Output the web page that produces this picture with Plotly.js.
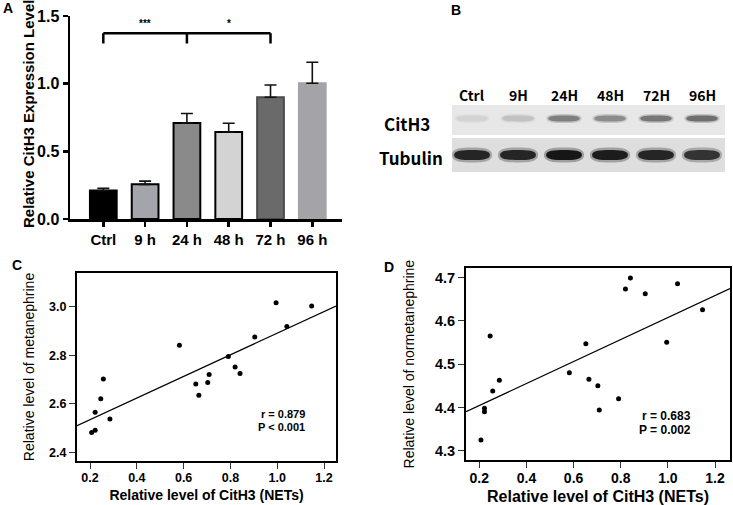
<!DOCTYPE html>
<html><head><meta charset="utf-8">
<script src="https://cdn.plot.ly/plotly-3.0.1.min.js"></script>
<style>html,body{margin:0;padding:0;background:#fff}</style>
</head><body><div id="chart" style="width:733px;height:505px"></div>
<script>
// ---------- Panel A data ----------
const groups = ['Ctrl', '9 h', '24 h', '48 h', '72 h', '96 h'];
const expression = [0.21, 0.256, 0.71, 0.643, 0.90, 1.003];
const expressionErr = [0.017, 0.024, 0.07, 0.064, 0.09, 0.155];
const yTicksA = [0, 0.5, 1.0, 1.5];
const yTickTextA = ['0.0', '0.5', '1.0', '1.5'];
const sigFrom = [0, 2];
const sigTo = [2, 4];
const sigLabels = ['***', '*'];
const sigLevel = 1.372;

// ---------- Panel B data (band darkness 0..1) ----------
const lanes = ['Ctrl', '9H', '24H', '48H', '72H', '96H'];
const blotRows = ['CitH3', 'Tubulin'];
const citH3Band = [0.10, 0.18, 0.50, 0.44, 0.54, 0.58];
const tubulinBand = [0.93, 0.93, 1.0, 0.97, 0.93, 0.86];

// ---------- Panels C / D data ----------
const citH3NETs = [0.207, 0.222, 0.222, 0.246, 0.257, 0.285, 0.582, 0.652, 0.665, 0.703, 0.709, 0.791, 0.820, 0.841, 0.904, 0.995, 1.041, 1.147];
const metanephrine = [2.481, 2.491, 2.565, 2.621, 2.702, 2.537, 2.841, 2.681, 2.635, 2.688, 2.721, 2.795, 2.751, 2.725, 2.875, 3.016, 2.918, 3.003];
const normetanephrine = [4.325, 4.398, 4.390, 4.565, 4.438, 4.463, 4.480, 4.547, 4.465, 4.450, 4.394, 4.420, 4.674, 4.699, 4.663, 4.551, 4.686, 4.626];
const xTicksCD = [0.2, 0.4, 0.6, 0.8, 1.0, 1.2];
const yTicksC = [2.4, 2.6, 2.8, 3.0];
const yTicksD = [4.3, 4.4, 4.5, 4.6, 4.7];
const statsC = ['r = 0.879', 'P &lt; 0.001'];
const statsD = ['r = 0.683', 'P = 0.002'];
const titleA = 'Relative CitH3 Expression Level';

// ---------- helpers ----------
const W = 733, H = 505;
const px = v => v / W;
const py = v => 1 - v / H;
const FONT = 'Liberation Sans, Arial, sans-serif';
const BLOTFONT = 'Noto Sans CJK SC, Noto Sans, sans-serif';

function fitLine(x, y) {
  const n = x.length;
  const mx = x.reduce((a, b) => a + b, 0) / n;
  const my = y.reduce((a, b) => a + b, 0) / n;
  let sxy = 0, sxx = 0;
  for (let i = 0; i < n; i++) { sxy += (x[i] - mx) * (y[i] - my); sxx += (x[i] - mx) ** 2; }
  const b = sxy / sxx;
  return { a: my - b * mx, b };
}

const rangeXC = [0.1444, 1.251];
const rangeXD = [0.1436, 1.2636];
const fitC = fitLine(citH3NETs, metanephrine);
const fitD = fitLine(citH3NETs, normetanephrine);

const barColors = ['#000000', '#a4a4ab', '#8a8a8a', '#d3d3d3', '#6a6a6a', '#a4a4a8'];
const barLineColors = ['#000000', '#000000', '#000000', '#000000', '#4a4a4a', '#a4a4a8'];
const idx = groups.map((_, i) => i);

const traces = [
  {
    type: 'bar', x: idx, y: expression, width: 0.64, xaxis: 'x', yaxis: 'y',
    marker: { color: barColors, line: { color: barLineColors, width: 2 } },
    error_y: { type: 'data', array: expressionErr, arrayminus: expressionErr.map(() => 0), symmetric: false, color: '#111', thickness: 1.6, width: 6 },
    hoverinfo: 'skip', showlegend: false
  },
  {
    type: 'scatter', mode: 'markers', x: citH3NETs, y: metanephrine, xaxis: 'x3', yaxis: 'y3',
    marker: { color: '#000', size: 5 }, showlegend: false, cliponaxis: false
  },
  {
    type: 'scatter', mode: 'lines', x: rangeXC, y: rangeXC.map(v => fitC.a + fitC.b * v), xaxis: 'x3', yaxis: 'y3',
    line: { color: '#000', width: 1.3 }, showlegend: false
  },
  {
    type: 'scatter', mode: 'markers', x: citH3NETs, y: normetanephrine, xaxis: 'x4', yaxis: 'y4',
    marker: { color: '#000', size: 5 }, showlegend: false, cliponaxis: false
  },
  {
    type: 'scatter', mode: 'lines', x: rangeXD, y: rangeXD.map(v => fitD.a + fitD.b * v), xaxis: 'x4', yaxis: 'y4',
    line: { color: '#000', width: 1.3 }, showlegend: false
  }
];

// ---------- shapes ----------
const shapes = [];
const sigDrop = 0.075;
sigFrom.forEach((f, k) => {
  const t = sigTo[k];
  shapes.push({ type: 'line', xref: 'x', yref: 'y', x0: f, x1: t, y0: sigLevel, y1: sigLevel, line: { color: '#000', width: 2.5 } });
});
const bracketEnds = Array.from(new Set(sigFrom.concat(sigTo)));
bracketEnds.forEach(e => {
  shapes.push({ type: 'line', xref: 'x', yref: 'y', x0: e, x1: e, y0: sigLevel - sigDrop, y1: sigLevel, line: { color: '#000', width: 2.5 } });
});

// blot axes geometry
const blotXDomain = [px(452), px(725)];
const blotXRange = [-0.435, 5.5];
const blotYDomain = [py(172), py(105)];
const laneToPaper = i => blotXDomain[0] + (i - blotXRange[0]) / (blotXRange[1] - blotXRange[0]) * (blotXDomain[1] - blotXDomain[0]);

const stripCit = [0.552, 1.0];
const stripTub = [0.0, 0.507];
shapes.push({ type: 'rect', xref: 'x2', yref: 'y2', x0: blotXRange[0], x1: blotXRange[1], y0: stripCit[0], y1: stripCit[1], fillcolor: '#e7e7e7', line: { width: 0 }, layer: 'below' });
shapes.push({ type: 'rect', xref: 'x2', yref: 'y2', x0: blotXRange[0], x1: blotXRange[1], y0: stripTub[0], y1: stripTub[1], fillcolor: '#dedede', line: { width: 0 }, layer: 'below' });

function bandPath(cx, cy, hw, hh) {
  const k = 0.55;
  return `M ${cx - hw},${cy} C ${cx - hw},${cy + hh * 0.9} ${cx - hw * k},${cy + hh} ${cx},${cy + hh} ` +
         `C ${cx + hw * k},${cy + hh} ${cx + hw},${cy + hh * 0.9} ${cx + hw},${cy} ` +
         `C ${cx + hw},${cy - hh * 0.9} ${cx + hw * k},${cy - hh} ${cx},${cy - hh} ` +
         `C ${cx - hw * k},${cy - hh} ${cx - hw},${cy - hh * 0.9} ${cx - hw},${cy} Z`;
}
function grey(d) {
  const v = Math.round(232 - d * (232 - 22));
  return `rgb(${v},${v},${v})`;
}
function addBands(vals, cy, hw, hh) {
  vals.forEach((d, i) => {
    shapes.push({ type: 'path', xref: 'x2', yref: 'y2', path: bandPath(i, cy, hw * 1.12, hh * 1.5), fillcolor: grey(d * 0.55), opacity: 0.6, line: { width: 0 } });
    shapes.push({ type: 'path', xref: 'x2', yref: 'y2', path: bandPath(i, cy, hw, hh), fillcolor: grey(d), line: { width: 0 } });
  });
}
addBands(citH3Band, 0.80, 0.34, 0.045);
addBands(tubulinBand, 0.254, 0.39, 0.075);

// ---------- annotations ----------
const annotations = [];
const ann = (x, y, text, font, extra) => Object.assign({ xref: 'paper', yref: 'paper', x: x, y: y, text: text, showarrow: false, xanchor: 'center', yanchor: 'middle', font: font }, extra || {});
const bf = (fam, s) => ({ family: fam, size: s, color: '#000', weight: 'bold' });

sigLabels.forEach((s, k) => {
  annotations.push({ xref: 'x', yref: 'y', x: (sigFrom[k] + sigTo[k]) / 2, y: sigLevel, xanchor: 'center', yanchor: 'bottom', yshift: 2, text: s, showarrow: false, font: bf(FONT, 10) });
});
lanes.forEach((l, i) => annotations.push(ann(laneToPaper(i), py(95), l, bf(BLOTFONT, 14))));
annotations.push(ann(px(407), py(123), blotRows[0], bf(BLOTFONT, 17)));
annotations.push(ann(px(411), py(157), blotRows[1], bf(BLOTFONT, 17)));

// panel A y-axis title
annotations.push(ann(px(29), py(114), titleA, bf(FONT, 15), { textangle: -90 }));

[['A', 7.5, 8], ['B', 456, 10], ['C', 16.7, 265], ['D', 389, 267]].forEach(p => {
  annotations.push(ann(px(p[1]), py(p[2]), p[0], bf(FONT, 14)));
});
annotations.push(ann(px(307), py(414), statsC[0], bf(FONT, 11), { xanchor: 'right' }));
annotations.push(ann(px(307), py(427), statsC[1], bf(FONT, 11), { xanchor: 'right' }));
annotations.push(ann(px(693), py(416), statsD[0], bf(FONT, 12), { xanchor: 'right' }));
annotations.push(ann(px(693), py(429.5), statsD[1], bf(FONT, 12), { xanchor: 'right' }));

// ---------- layout ----------
const boldTick = s => ({ family: FONT, size: s, color: '#000', weight: 'bold' });
const scatterX = (dom, rng, fs, tfs, so, anchor) => ({
  domain: dom, range: rng, anchor: anchor, tickvals: xTicksCD, ticktext: xTicksCD.map(v => v.toFixed(1)),
  ticks: 'outside', ticklen: 6, tickwidth: 1, tickcolor: '#333', showline: true, mirror: true, linewidth: 2, linecolor: '#000',
  showgrid: false, zeroline: false, tickfont: boldTick(fs), ticklabelstandoff: -2,
  title: { text: 'Relative level of CitH3 (NETs)', font: { family: FONT, size: tfs, color: '#000', weight: 'bold' }, standoff: so }
});
const scatterY = (dom, rng, ticks, fs, title, so, anchor) => ({
  domain: dom, range: rng, anchor: anchor, tickvals: ticks, ticktext: ticks.map(v => v.toFixed(1)),
  ticks: 'outside', ticklen: 6, tickwidth: 1, tickcolor: '#333', showline: true, mirror: true, linewidth: 2, linecolor: '#000',
  showgrid: false, zeroline: false, tickfont: boldTick(fs),
  title: { text: title, font: { family: FONT, size: 14, color: '#000' }, standoff: so }
});

const layout = {
  width: W, height: H, margin: { l: 0, r: 0, t: 0, b: 0 },
  paper_bgcolor: '#fff', plot_bgcolor: 'rgba(0,0,0,0)', showlegend: false,
  font: { family: FONT, color: '#000' },
  xaxis: {
    domain: [px(70), px(341.7)], range: [-0.797, 5.703], anchor: 'y',
    tickvals: idx, ticktext: groups, ticks: 'outside', ticklen: 5, tickwidth: 2.5, tickcolor: '#000',
    showline: true, linewidth: 2.5, linecolor: '#000', showgrid: false, zeroline: false, tickfont: boldTick(15)
  },
  yaxis: {
    domain: [py(219), py(16)], range: [0, 1.5], anchor: 'x',
    tickvals: yTicksA, ticktext: yTickTextA, ticks: 'outside', ticklen: 5, tickwidth: 2.5, tickcolor: '#000',
    showline: true, linewidth: 2.5, linecolor: '#000', showgrid: false, zeroline: false, tickfont: boldTick(16)
  },
  xaxis2: { domain: blotXDomain, range: blotXRange, anchor: 'y2', visible: false },
  yaxis2: { domain: blotYDomain, range: [0, 1], anchor: 'x2', visible: false },
  xaxis3: scatterX([px(77), px(336)], rangeXC, 12.5, 14, 6, 'y3'),
  yaxis3: scatterY([py(461), py(273)], [2.364, 3.139], yTicksC, 12.5, 'Relative level of metanephrine', 11, 'x3'),
  xaxis4: scatterX([px(466), px(730)], rangeXD, 14, 16, 7, 'y4'),
  yaxis4: scatterY([py(460), py(268.3)], [4.2785, 4.7217], yTicksD, 14.5, 'Relative level of normetanephrine', 17, 'x4'),
  shapes: shapes,
  annotations: annotations
};

Plotly.newPlot('chart', traces, layout, { staticPlot: true, displayModeBar: false });
</script>
</body></html>
